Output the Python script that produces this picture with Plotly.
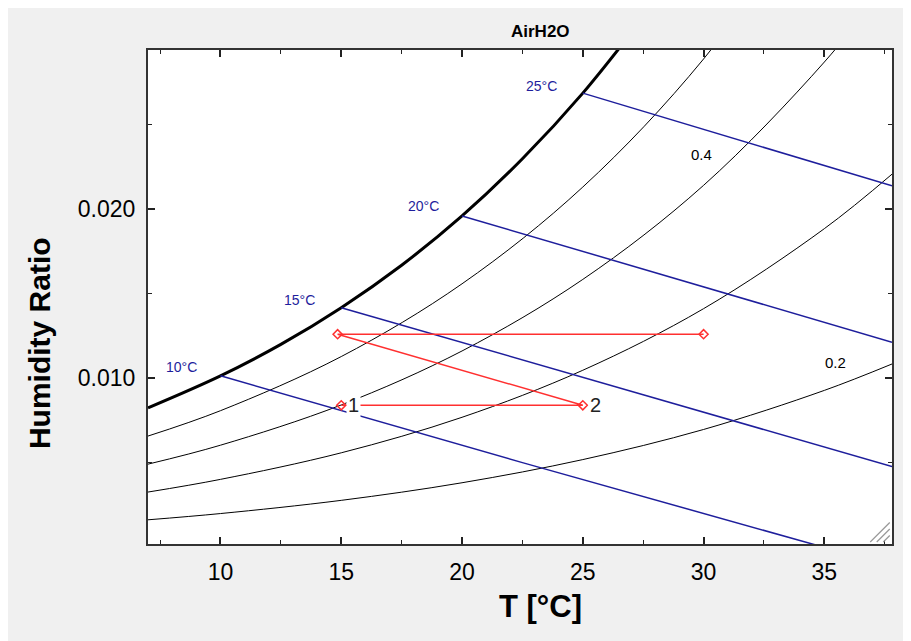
import plotly.graph_objects as go

# ---------------- data ----------------
T_sat = [7, 10, 12.5, 15, 17.5, 20, 22.5, 25, 27.5]
w_sat = [0.00825, 0.01014, 0.01200, 0.01417, 0.01668, 0.01959, 0.02297, 0.02685, 0.03133]

T_rh = [7, 10, 15, 20, 25, 30, 35, 37.8]
w_rh80 = [0.00658, 0.00808, 0.01128, 0.01558, 0.02130, 0.02887, 0.03885, 0.04575]
w_rh60 = [0.00492, 0.00604, 0.00842, 0.01161, 0.01584, 0.02140, 0.02869, 0.03369]
w_rh40 = [0.00327, 0.00402, 0.00559, 0.00769, 0.01047, 0.01411, 0.01884, 0.02206]
w_rh20 = [0.00163, 0.00200, 0.00278, 0.00382, 0.00519, 0.00697, 0.00928, 0.01084]

T_wb10 = [10, 22.5, 35]
w_wb10 = [0.01014, 0.00501, 0.0]
T_wb15 = [15, 37.8]
w_wb15 = [0.01417, 0.00478]
T_wb20 = [20, 37.8]
w_wb20 = [0.01959, 0.01213]
T_wb25 = [25, 37.8]
w_wb25 = [0.02685, 0.02137]
wb_labels = ["10°C", "15°C", "20°C", "25°C"]

T_proc = [15, 25, 14.85, 30]
w_proc = [0.0084, 0.0084, 0.0126, 0.0126]
state_labels = ["1", "2"]

rh_labels = ["0.4", "0.2"]

x_ticks = [10, 15, 20, 25, 30, 35]
y_ticks = [0.010, 0.020]

# ---------------- figure ----------------
FONT = "Liberation Sans, Arial, sans-serif"
BLUE = "#1e1e9c"
RED = "#ff3030"
fig = go.Figure()

for w in [w_rh80, w_rh60, w_rh40, w_rh20]:
    fig.add_trace(go.Scatter(x=T_rh, y=w, mode="lines",
                             line=dict(color="black", width=1, shape="spline"),
                             hoverinfo="skip", showlegend=False))
fig.add_trace(go.Scatter(x=T_sat, y=w_sat, mode="lines",
                         line=dict(color="black", width=3, shape="spline"),
                         hoverinfo="skip", showlegend=False))
for tx, wy in [(T_wb10, w_wb10), (T_wb15, w_wb15), (T_wb20, w_wb20), (T_wb25, w_wb25)]:
    fig.add_trace(go.Scatter(x=tx, y=wy, mode="lines",
                             line=dict(color=BLUE, width=1.5),
                             hoverinfo="skip", showlegend=False))
fig.add_trace(go.Scatter(x=T_proc, y=w_proc, mode="lines+markers",
                         line=dict(color=RED, width=1.5),
                         marker=dict(symbol="diamond-open", size=7, color=RED,
                                     line=dict(width=1.5, color=RED)),
                         hoverinfo="skip", showlegend=False))

annotations = []
wb_pos = [(8.40, 0.01065), (13.26, 0.01463), (18.39, 0.02015), (23.30, 0.02725)]
for txt, (px, py) in zip(wb_labels, wb_pos):
    annotations.append(dict(x=px, y=py, xref="x", yref="y", text=txt, showarrow=False,
                            xanchor="center", yanchor="middle",
                            font=dict(family=FONT, size=14, color=BLUE)))
rh_pos = [(29.93, 0.02321), (35.48, 0.01092)]
for txt, (px, py) in zip(rh_labels, rh_pos):
    annotations.append(dict(x=px, y=py, xref="x", yref="y", text=txt, showarrow=False,
                            xanchor="center", yanchor="middle",
                            font=dict(family=FONT, size=15, color="black")))
for txt, px, py in zip(state_labels, T_proc[:2], w_proc[:2]):
    annotations.append(dict(x=px, y=py, xref="x", yref="y", text=txt, showarrow=False,
                            xanchor="left", yanchor="middle", xshift=5, bgcolor="white",
                            borderpad=1,
                            font=dict(family=FONT, size=20, color="#222")))
annotations.append(dict(x=-0.145, y=0.407, xref="paper", yref="paper",
                        text="<b>Humidity Ratio</b>", textangle=-90, showarrow=False,
                        xanchor="center", yanchor="middle",
                        font=dict(family=FONT, size=30, color="black")))
annotations.append(dict(x=0.528, y=-0.1275, xref="paper", yref="paper",
                        text="<b>T [°C]</b>", showarrow=False,
                        xanchor="center", yanchor="middle",
                        font=dict(family=FONT, size=31, color="black")))
annotations.append(dict(x=0.528, y=1.0366, xref="paper", yref="paper",
                        text="<b>AirH2O</b>", showarrow=False,
                        xanchor="center", yanchor="middle",
                        font=dict(family=FONT, size=17, color="black")))

shapes = []
for k in range(3):
    d = 0.006 * (k + 1)
    shapes.append(dict(type="line", xref="paper", yref="paper",
                       x0=0.997 - d * 494 / 744 * 2.2, y0=0.004, x1=0.997, y1=0.004 + d * 2.2,
                       line=dict(color="#999", width=1.2)))

fig.update_layout(
    width=903, height=633,
    margin=dict(l=140, r=19, t=42, b=97),
    paper_bgcolor="#f0f0f0", plot_bgcolor="white",
    showlegend=False,
    annotations=annotations,
    shapes=shapes,
    font=dict(family=FONT, size=23, color="black"),
)
fig.update_xaxes(range=[7.0, 37.8], tickvals=x_ticks, ticktext=[str(v) for v in x_ticks],
                 ticks="inside", ticklen=7, tickwidth=1.5, tickcolor="#222",
                 showline=True, linecolor="#333", linewidth=2, mirror="allticks",
                 showgrid=False, zeroline=False, ticklabelstandoff=6,
                 minor=dict(dtick=2.5, tick0=0, ticks="inside", ticklen=4, tickwidth=1.2,
                            tickcolor="#222", showgrid=False),
                 tickfont=dict(family=FONT, size=23))
fig.update_yaxes(range=[0.0002, 0.0294], tickvals=y_ticks, ticktext=["0.010", "0.020"],
                 ticks="inside", ticklen=7, tickwidth=1.5, tickcolor="#222",
                 showline=True, linecolor="#333", linewidth=2, mirror="allticks",
                 showgrid=False, zeroline=False, ticklabelstandoff=6,
                 minor=dict(dtick=0.005, tick0=0, ticks="inside", ticklen=4, tickwidth=1.2,
                            tickcolor="#222", showgrid=False),
                 tickfont=dict(family=FONT, size=23))

fig.write_html("out.html")
